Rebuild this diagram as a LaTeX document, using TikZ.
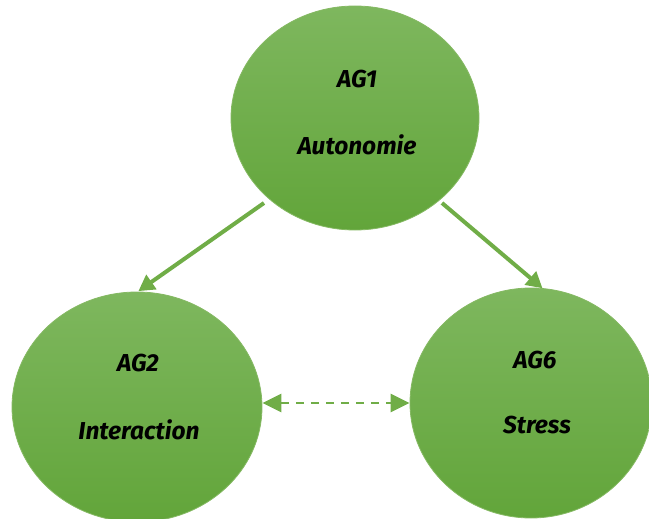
\documentclass[tikz,border=0pt]{standalone}
\usepackage{fontspec}
\setmainfont{Fira Sans}
\usetikzlibrary{arrows.meta,shapes.geometric}
\definecolor{offgreen}{HTML}{70AD47}
\definecolor{topgreen}{HTML}{7EB75E}
\definecolor{botgreen}{HTML}{62A53A}
\begin{document}
\begin{tikzpicture}[x=1pt,y=-1pt,
  agnode/.style={ellipse, inner sep=0pt, top color=topgreen, bottom color=botgreen, draw=offgreen!85!white, line width=0.8pt},
  lbl/.style={font=\fontsize{24.5}{27}\selectfont\bfseries\itshape, text=black},
  solidarrow/.style={draw=offgreen, line width=4pt, -{Triangle[length=16pt,width=17pt]}, shorten >=-2pt},
  dasharrow/.style={draw=offgreen, line width=2.6pt, dash pattern=on 8pt off 7pt, {Triangle[length=19pt,width=18pt]}-{Triangle[length=19pt,width=18pt]}}
]
\useasboundingbox (0,0) rectangle (649,519);
\node[agnode, minimum width=248pt, minimum height=224pt] (ag1) at (355,118) {};
\node[agnode, minimum width=250pt, minimum height=230pt] (ag2) at (137,407) {};
\node[agnode, minimum width=242pt, minimum height=230pt] (ag6) at (531,403) {};
\node[lbl] (t1a) at (357,79) {AG1};
\node[lbl] (t1b) at (357,145) {Autonomie};
\node[lbl] (t2a) at (138,363) {AG2};
\node[lbl] (t2b) at (139,430) {Interaction};
\node[lbl] (t6a) at (535,360) {AG6};
\node[lbl] (t6b) at (537,425) {Stress};
\coordinate (s1) at (264,203);
\coordinate (e1) at (140,290);
\coordinate (s2) at (442,203);
\coordinate (e2) at (541,287);
\coordinate (d1) at (ag2.east |- ag6.west);
\draw[solidarrow] (s1) -- (e1);
\draw[solidarrow] (s2) -- (e2);
\draw[dasharrow] (d1) -- (ag6.west);
\end{tikzpicture}
\end{document}
